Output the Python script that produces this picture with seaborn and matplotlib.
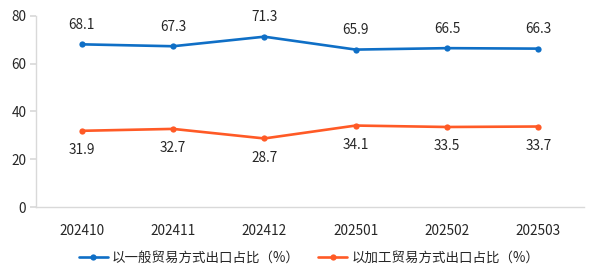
import matplotlib
matplotlib.use("Agg")
import matplotlib.pyplot as plt
import seaborn as sns
import pandas as pd

months = ["202410", "202411", "202412", "202501", "202502", "202503"]
general_trade = [68.1, 67.3, 71.3, 65.9, 66.5, 66.3]
processing_trade = [31.9, 32.7, 28.7, 34.1, 33.5, 33.7]
series_names = ["以一般贸易方式出口占比（%）", "以加工贸易方式出口占比（%）"]
y_ticks = [0, 20, 40, 60, 80]

sns.set_theme(style="white")
plt.rcParams["font.family"] = ["Noto Sans CJK SC", "DejaVu Sans"]

df = pd.DataFrame({
    "month": months * 2,
    "value": general_trade + processing_trade,
    "series": [series_names[0]] * len(months) + [series_names[1]] * len(months),
})

colors = ["#0F6FC6", "#FF5A26"]

fig = plt.figure(figsize=(6, 2.79), dpi=100)
ax = fig.add_axes([0.06, 0.258, 0.9133, 0.685])

sns.lineplot(data=df, x="month", y="value", hue="series", palette=colors,
             marker="o", markersize=4.5, markeredgewidth=0, linewidth=1.9,
             ax=ax, legend=True, sort=False)

ax.set_xlim(-0.5, len(months) - 0.5)
ax.set_ylim(0, 80)
ax.set_yticks(y_ticks)
ax.set_xlabel("")
ax.set_ylabel("")

for i, v in enumerate(general_trade):
    ax.annotate(f"{v:.1f}", (i, v), xytext=(0, 14), textcoords="offset points",
                ha="center", va="center", fontsize=9.8, color="#262626")
for i, v in enumerate(processing_trade):
    ax.annotate(f"{v:.1f}", (i, v), xytext=(0, -14), textcoords="offset points",
                ha="center", va="center", fontsize=9.8, color="#262626")

for s in ["top", "right"]:
    ax.spines[s].set_visible(False)
ax.spines["left"].set_color("#D9D9D9")
ax.spines["bottom"].set_color("#D9D9D9")
ax.spines["left"].set_linewidth(1)
ax.spines["bottom"].set_linewidth(1)
ax.tick_params(axis="y", left=True, length=4, color="#D9D9D9", labelsize=9.8,
               labelcolor="#262626", pad=3)
ax.tick_params(axis="x", bottom=False, labelsize=9.8, labelcolor="#262626", pad=6)

handles, labels = ax.get_legend_handles_labels()
ax.get_legend().remove()
fig.legend(handles, labels, loc="center", bbox_to_anchor=(0.515, 0.075), ncol=2,
           frameon=False, fontsize=9.7, labelcolor="#262626", columnspacing=1.4,
           handlelength=2.15, handletextpad=0.3)

fig.savefig("out.png", dpi=100)
